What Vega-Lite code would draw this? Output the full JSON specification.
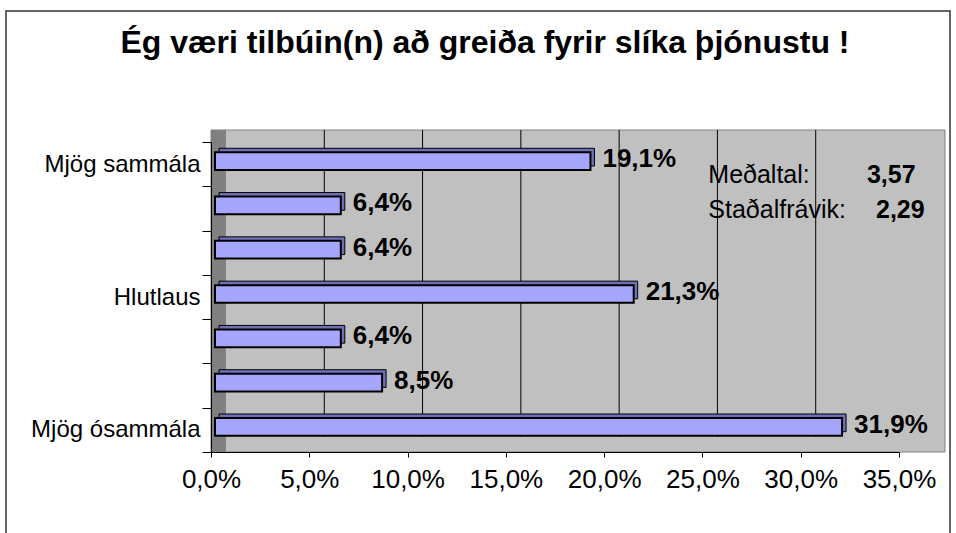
{
  "$schema": "https://vega.github.io/schema/vega-lite/v6.json",
  "width": 944,
  "height": 524,
  "autosize": {"type": "none"},
  "padding": {"left": 6, "top": 11, "right": 6, "bottom": 0},
  "background": "white",
  "title": {
    "text": "Ég væri tilbúin(n) að greiða fyrir slíka þjónustu !",
    "font": "Liberation Sans",
    "fontSize": 32,
    "fontWeight": "bold",
    "color": "black",
    "anchor": "middle",
    "baseline": "alphabetic",
    "offset": -86,
    "dx": 7
  },
  "config": {
    "font": "Liberation Sans",
    "locale": {"number": {"decimal": ",", "thousands": ".", "grouping": [3], "currency": ["", ""]}},
    "view": {"stroke": "#333333", "strokeWidth": 1.5, "fill": "white"}
  },
  "data": {
    "values": [
      {"stig": 7, "hlutfall": 0.191},
      {"stig": 6, "hlutfall": 0.064},
      {"stig": 5, "hlutfall": 0.064},
      {"stig": 4, "hlutfall": 0.213},
      {"stig": 3, "hlutfall": 0.064},
      {"stig": 2, "hlutfall": 0.085},
      {"stig": 1, "hlutfall": 0.319}
    ]
  },
  "layer": [
    {
      "data": {"values": [{}]},
      "mark": {"type": "rect", "fill": "#c0c0c0", "stroke": "#808080", "strokeWidth": 1, "yOffset": -12},
      "encoding": {
        "x": {
          "datum": 0,
          "type": "quantitative",
          "scale": {"domain": [0, 0.35], "range": [205, 893], "nice": false, "zero": true},
          "axis": {
            "orient": "bottom",
            "offset": -83,
            "values": [0, 0.05, 0.1, 0.15, 0.2, 0.25, 0.3, 0.35],
            "format": ".1%",
            "title": null,
            "grid": false,
            "zindex": 1,
            "domainColor": "black",
            "tickColor": "black",
            "tickSize": 5,
            "labelFontSize": 26,
            "labelColor": "black",
            "labelFont": "Liberation Sans",
            "labelBaseline": "alphabetic",
            "labelPadding": 30,
            "labelFlush": false,
            "labelOverlap": false
          }
        },
        "x2": {"datum": 0.3734},
        "y": {
          "datum": 7,
          "type": "nominal",
          "bandPosition": 0,
          "scale": {"domain": [7, 6, 5, 4, 3, 2, 1], "range": [131, 441], "paddingInner": 0, "paddingOuter": 0},
          "axis": {
            "orient": "left",
            "offset": -205,
            "title": null,
            "zindex": 1,
            "grid": false,
            "tickBand": "extent",
            "tickSize": 9,
            "tickColor": "black",
            "domainColor": "black",
            "labelFontSize": 24,
            "labelColor": "black",
            "labelFont": "Liberation Sans",
            "labelPadding": 2,
            "labelBaseline": "middle",
            "labelExpr": "datum.value == 7 ? 'Mjög sammála' : datum.value == 4 ? 'Hlutlaus' : datum.value == 1 ? 'Mjög ósammála' : ''"
          }
        },
        "y2": {"datum": 1, "bandPosition": 1}
      }
    },
    {
      "data": {"values": [{}]},
      "mark": {"type": "rect", "fill": "#808080", "yOffset": -12},
      "encoding": {
        "x": {"datum": 0, "type": "quantitative"},
        "x2": {"datum": 0.0076},
        "y": {"datum": 7, "type": "nominal", "bandPosition": 0},
        "y2": {"datum": 1, "bandPosition": 1}
      }
    },
    {
      "data": {"values": [{"v": 0.05}, {"v": 0.1}, {"v": 0.15}, {"v": 0.2}, {"v": 0.25}, {"v": 0.3}]},
      "mark": {"type": "rule", "color": "black", "strokeWidth": 1, "xOffset": 15, "x2Offset": 15, "yOffset": -12, "y2Offset": -15},
      "encoding": {
        "x": {"field": "v", "type": "quantitative"},
        "y": {"datum": 7, "type": "nominal", "bandPosition": 0},
        "y2": {"datum": 1, "bandPosition": 1}
      }
    },
    {
      "mark": {"type": "bar", "fill": "#7070b8", "stroke": "black", "strokeWidth": 1, "height": {"band": 0.4}, "xOffset": 8, "x2Offset": 8, "yOffset": -7, "y2Offset": -7},
      "encoding": {
        "x": {"field": "hlutfall", "type": "quantitative"},
        "y": {"field": "stig", "type": "nominal"}
      }
    },
    {
      "mark": {"type": "bar", "fill": "#a6a6ff", "stroke": "black", "strokeWidth": 2, "height": {"band": 0.4}, "xOffset": 4, "x2Offset": 4, "yOffset": -3, "y2Offset": -3},
      "encoding": {
        "x": {"field": "hlutfall", "type": "quantitative"},
        "y": {"field": "stig", "type": "nominal"}
      }
    },
    {
      "mark": {"type": "text", "fontSize": 26, "fontWeight": "bold", "color": "black", "align": "left", "baseline": "alphabetic", "dx": 16, "dy": 3},
      "encoding": {
        "x": {"field": "hlutfall", "type": "quantitative"},
        "y": {"field": "stig", "type": "nominal"},
        "text": {"field": "hlutfall", "type": "quantitative", "format": ".1%"}
      }
    },
    {
      "data": {"values": [{"t": "Meðaltal:"}]},
      "mark": {"type": "text", "fontSize": 25, "color": "black", "align": "left", "baseline": "alphabetic", "dy": 19},
      "encoding": {
        "x": {"datum": 0.253, "type": "quantitative"},
        "y": {"datum": 7, "type": "nominal"},
        "text": {"field": "t"}
      }
    },
    {
      "data": {"values": [{"t": "3,57"}]},
      "mark": {"type": "text", "fontSize": 25, "fontWeight": "bold", "color": "black", "align": "left", "baseline": "alphabetic", "dy": 19},
      "encoding": {
        "x": {"datum": 0.3337, "type": "quantitative"},
        "y": {"datum": 7, "type": "nominal"},
        "text": {"field": "t"}
      }
    },
    {
      "data": {"values": [{"t": "Staðalfrávik:"}]},
      "mark": {"type": "text", "fontSize": 25, "color": "black", "align": "left", "baseline": "alphabetic", "dy": 9.5},
      "encoding": {
        "x": {"datum": 0.253, "type": "quantitative"},
        "y": {"datum": 6, "type": "nominal"},
        "text": {"field": "t"}
      }
    },
    {
      "data": {"values": [{"t": "2,29"}]},
      "mark": {"type": "text", "fontSize": 25, "fontWeight": "bold", "color": "black", "align": "left", "baseline": "alphabetic", "dy": 9.5},
      "encoding": {
        "x": {"datum": 0.3383, "type": "quantitative"},
        "y": {"datum": 6, "type": "nominal"},
        "text": {"field": "t"}
      }
    }
  ]
}
